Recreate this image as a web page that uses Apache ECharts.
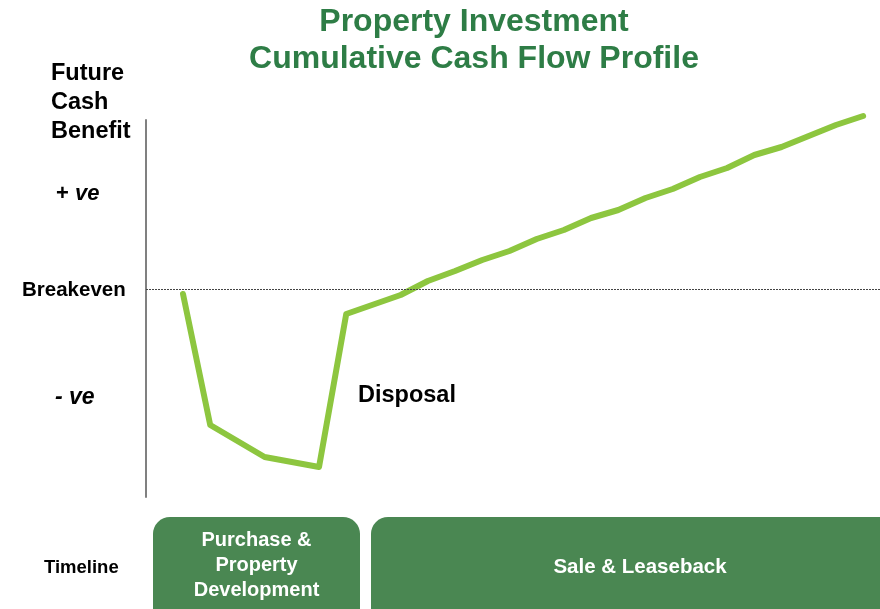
<!DOCTYPE html>
<html>
<head>
<meta charset="utf-8">
<title>Property Investment Cumulative Cash Flow Profile</title>
<script src="https://cdn.jsdelivr.net/npm/echarts@6/dist/echarts.min.js"></script>
<style>
  html, body { margin: 0; padding: 0; background: #ffffff; }
  #chart { width: 880px; height: 609px; }
</style>
</head>
<body>
<div id="chart"></div>
<script>
// Cumulative cash position per period (arbitrary units, 0 = breakeven)
const periods = [0, 1, 3, 5, 6, 8, 9, 10, 11, 12, 13, 14, 15, 16, 17, 18, 19, 20, 21, 22, 23, 24, 25];
const cumulativeCash = [-0.5, -13.6, -16.8, -17.8, -2.5, -0.6, 0.8, 1.8, 2.9, 3.8, 5.0, 5.9, 7.1, 7.9, 9.1, 10.0, 11.2, 12.1, 13.4, 14.2, 15.3, 16.4, 17.3];

// Vertical guide labels and the level each sits at
const levelLabels = ['+ ve', 'Breakeven', '- ve'];
const levelValues = [9.6, 0, -10.8];

// Timeline phases
const phases = ['Purchase &\nProperty\nDevelopment', 'Sale & Leaseback'];

const titleLines = ['Property Investment', 'Cumulative Cash Flow Profile'];
const axisTitle = 'Future\nCash\nBenefit';
const eventLabel = 'Disposal';
const timelineLabel = 'Timeline';

const GREEN_TITLE = '#2E7D46';
const GREEN_BOX = '#4A8752';
const GREEN_LINE = '#8DC63F';
const FONT = '"Liberation Sans", Arial, Helvetica, sans-serif';

const chart = echarts.init(document.getElementById('chart'), null, { renderer: 'canvas' });

const seriesData = periods.map((p, i) => [p, cumulativeCash[i]]);

// Plot area: 120..497 px vertically for -20.8..16.9
const yTop = 120, yBottom = 497, yMin = -20.8, yMax = 16.9;
function levelY(v) { return yTop + (yMax - v) / (yMax - yMin) * (yBottom - yTop); }

const graphics = [
  {
    type: 'text', x: 474, y: 22,
    style: {
      text: titleLines[0], fill: GREEN_TITLE,
      font: 'bold 32px ' + FONT, align: 'center', verticalAlign: 'middle'
    }
  },
  {
    type: 'text', x: 474, y: 59,
    style: {
      text: titleLines[1], fill: GREEN_TITLE,
      font: 'bold 32px ' + FONT, align: 'center', verticalAlign: 'middle'
    }
  },
  {
    type: 'text', x: 51, y: 59,
    style: { text: axisTitle, fill: '#000', font: 'bold 23.5px ' + FONT, lineHeight: 29 }
  },
  {
    type: 'text', x: 56, y: levelY(levelValues[0]) + 1,
    style: {
      text: '{p|+ }{i|ve}', verticalAlign: 'middle',
      rich: {
        p: { font: 'bold 22px ' + FONT, fill: '#000' },
        i: { font: 'italic bold 22px ' + FONT, fill: '#000' }
      }
    }
  },
  {
    type: 'text', x: 22, y: levelY(levelValues[1]) + 1,
    style: { text: levelLabels[1], fill: '#000', font: 'bold 20.5px ' + FONT, verticalAlign: 'middle' }
  },
  {
    type: 'text', x: 55, y: levelY(levelValues[2]) + 1,
    style: {
      text: '{i|- ve}', verticalAlign: 'middle',
      rich: { i: { font: 'italic bold 23px ' + FONT, fill: '#000' } }
    }
  },
  {
    type: 'text', x: 358, y: 396,
    style: { text: eventLabel, fill: '#000', font: 'bold 23.5px ' + FONT, verticalAlign: 'middle' }
  },
  {
    type: 'text', x: 44, y: 568,
    style: { text: timelineLabel, fill: '#000', font: 'bold 18.5px ' + FONT, verticalAlign: 'middle' }
  },
  {
    type: 'rect', shape: { x: 153, y: 517, width: 207, height: 110, r: 17 },
    style: { fill: GREEN_BOX }
  },
  {
    type: 'text', x: 256.5, y: 565,
    style: {
      text: phases[0], fill: '#fff', font: 'bold 20px ' + FONT,
      align: 'center', verticalAlign: 'middle', lineHeight: 25
    }
  },
  {
    type: 'rect', shape: { x: 371, y: 517, width: 540, height: 110, r: 17 },
    style: { fill: GREEN_BOX }
  },
  {
    type: 'text', x: 640, y: 567,
    style: {
      text: phases[1], fill: '#fff', font: 'bold 20.5px ' + FONT,
      align: 'center', verticalAlign: 'middle'
    }
  }
];

chart.setOption({
  backgroundColor: '#ffffff',
  animation: false,
  grid: { left: 146, right: 0, top: yTop, bottom: 609 - yBottom },
  xAxis: {
    type: 'value', min: -1.36, max: 25.62,
    show: false
  },
  yAxis: {
    type: 'value', min: yMin, max: yMax,
    position: 'left',
    axisLine: { show: true, onZero: false, lineStyle: { color: '#808080', width: 2 } },
    axisTick: { show: false },
    axisLabel: { show: false },
    splitLine: { show: false }
  },
  series: [{
    type: 'line',
    data: seriesData,
    symbol: 'none',
    clip: false,
    lineStyle: { color: GREEN_LINE, width: 6, cap: 'round', join: 'round' },
    markLine: {
      silent: true,
      symbol: 'none',
      label: { show: false },
      lineStyle: { type: [2, 1], color: '#444', width: 1 },
      data: [{ yAxis: levelValues[1] }]
    },
    z: 3
  }],
  graphic: graphics
});
</script>
</body>
</html>
